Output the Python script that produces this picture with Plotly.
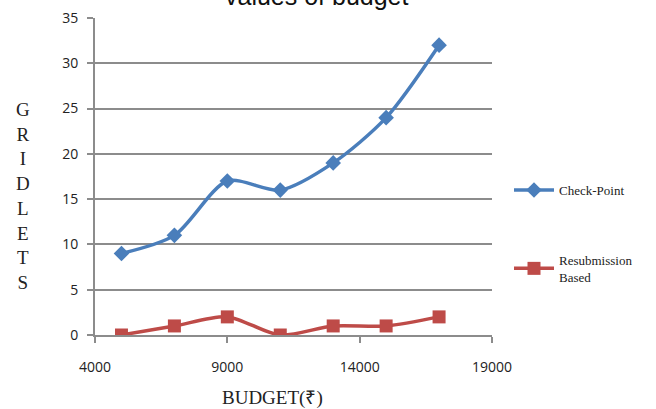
import plotly.graph_objects as go

budget = [5000, 7000, 9000, 11000, 13000, 15000, 17000]
checkpoint = [9, 11, 17, 16, 19, 24, 32]
resubmission = [0, 1, 2, 0, 1, 1, 2]
x_ticks = [4000, 9000, 14000, 19000]
y_ticks = [0, 5, 10, 15, 20, 25, 30, 35]

fig = go.Figure()
fig.add_trace(go.Scatter(
    x=budget, y=checkpoint, name="Check-Point", mode="lines+markers",
    line=dict(color="#4a7ebb", width=3.5, shape="spline", smoothing=0.8),
    marker=dict(symbol="diamond", size=12, color="#4a7ebb"),
    legendgroup="a",
))
fig.add_trace(go.Scatter(
    x=budget, y=resubmission, name="Resubmission<br>Based", mode="lines+markers",
    line=dict(color="#be4b48", width=3.5, shape="spline", smoothing=0.8),
    marker=dict(symbol="square", size=13, color="#be4b48"),
    legendgroup="b",
))

fig.update_layout(
    width=656, height=409,
    margin=dict(l=95, r=164, t=18, b=74, autoexpand=False),
    paper_bgcolor="white", plot_bgcolor="white",
    showlegend=True,
    legend=dict(
        x=1.0 + 17 / 397, xanchor="left", y=0.32, yanchor="middle",
        xref="paper", yref="paper",
        font=dict(family="Liberation Serif", size=13, color="#222"),
        tracegroupgap=50, itemwidth=40,
        bgcolor="rgba(0,0,0,0)",
    ),
    xaxis=dict(
        range=[4000, 19000], tickvals=x_ticks, ticktext=[str(v) for v in x_ticks],
        showgrid=False, zeroline=False, automargin=False,
        showline=True, linecolor="#8c8c8c", linewidth=2,
        ticks="outside", ticklen=6, tickwidth=1.5, tickcolor="#8c8c8c",
        ticklabelstandoff=12,
        tickfont=dict(family="Open Sans", size=14, color="#222"),
    ),
    yaxis=dict(
        range=[0, 35], tickvals=y_ticks, ticktext=[str(v) for v in y_ticks],
        showgrid=True, gridcolor="#8c8c8c", gridwidth=2, zeroline=False,
        automargin=False,
        showline=True, linecolor="#8c8c8c", linewidth=2,
        ticks="outside", ticklen=6, tickwidth=1.5, tickcolor="#8c8c8c",
        ticklabelstandoff=6,
        tickfont=dict(family="Open Sans", size=14, color="#222"),
    ),
    annotations=[
        dict(text="<br>".join("GRIDLETS"), xref="paper", yref="paper",
             x=-95 / 397, xanchor="left", xshift=14, y=0.44, yanchor="middle",
             showarrow=False, align="center",
             font=dict(family="Liberation Serif", size=19, color="#222")),
        dict(text="BUDGET(₹)", xref="paper", yref="paper",
             x=(272 - 95) / 397, xanchor="center", y=0, yanchor="middle", yshift=-63,
             showarrow=False,
             font=dict(family="Liberation Serif", size=19, color="#222")),
        dict(text="values of budget", xref="paper", yref="paper",
             x=0.56, xanchor="center", y=1.0, yanchor="bottom", yshift=6,
             showarrow=False,
             font=dict(family="Liberation Sans", size=25, color="#111")),
    ],
)

fig.write_html("out.html")
